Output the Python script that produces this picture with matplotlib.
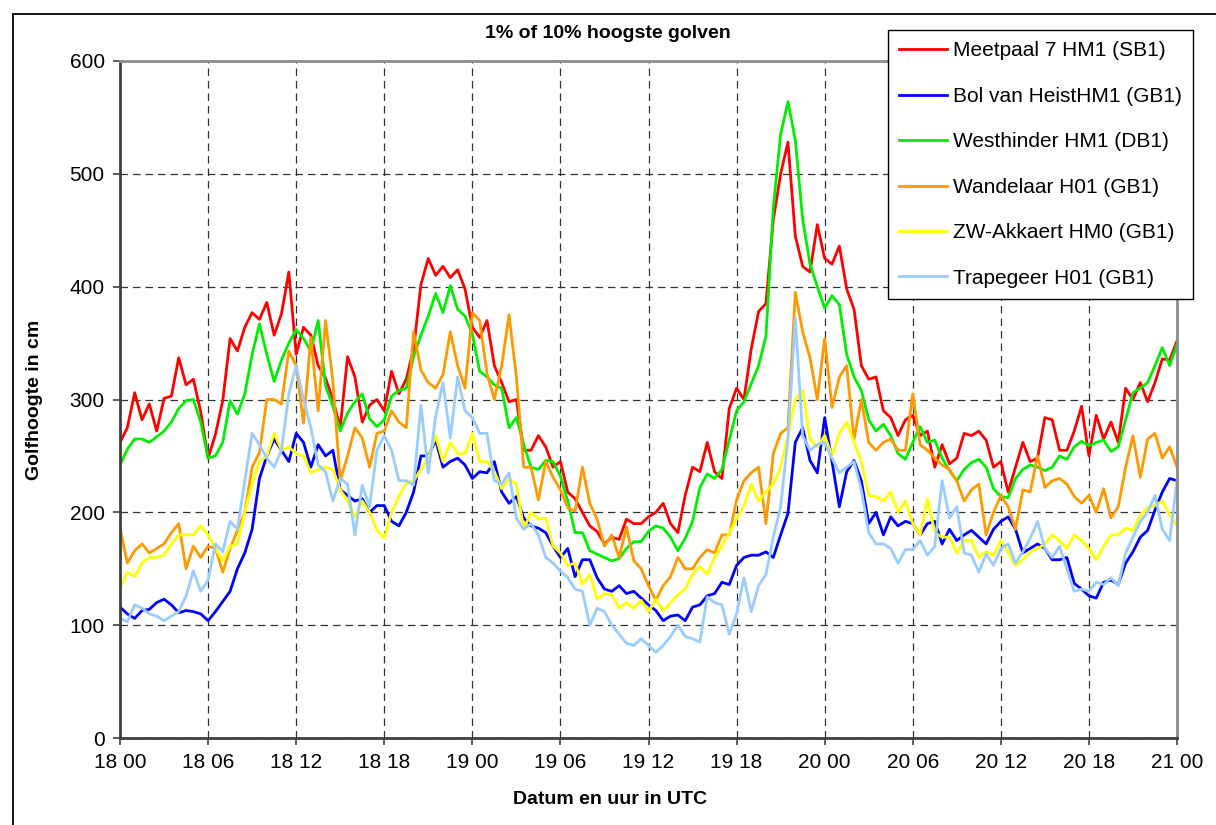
import numpy as np
import matplotlib
matplotlib.use("Agg")
import matplotlib.pyplot as plt
from matplotlib.patches import Rectangle

plt.rcParams["font.family"] = ["Liberation Sans", "DejaVu Sans"]

# =========================
# data (half-hourly, 18 00 -> 21 00)
# =========================

hours = np.arange(0, 72.5, 0.5)

tick_hours = [0, 6, 12, 18, 24, 30, 36, 42, 48, 54, 60, 66, 72]
tick_labels = ["18 00", "18 06", "18 12", "18 18", "19 00", "19 06", "19 12",
               "19 18", "20 00", "20 06", "20 12", "20 18", "21 00"]

meetpaal7 = [
    262, 275, 306, 282, 296, 272, 301, 303, 337, 313, 318, 289, 248, 269,
    299, 354, 343, 364, 377, 371, 386, 357, 376, 413, 340, 364, 357, 330,
    319, 300, 275, 338, 320, 280, 295, 300, 290, 325, 305, 318, 345, 402,
    425, 410, 418, 408, 415, 398, 364, 355, 370, 330, 315, 298, 300, 255,
    255, 268, 258, 240, 245, 218, 212, 200, 188, 183, 172, 178, 176, 194,
    190, 190, 196, 200, 208, 190, 182, 215, 240, 236, 262, 236, 230, 292,
    310, 300, 345, 378, 385, 459, 500, 528, 445, 418, 413, 455, 425, 420,
    436, 398, 380, 330, 318, 320, 290, 284, 268, 282, 286, 268, 272, 240,
    260, 243, 248, 270, 268, 272, 264, 240, 245, 218, 240, 262, 245, 248,
    284, 282, 255, 255, 272, 294, 250, 286, 265, 280, 262, 310, 300, 315,
    298, 315, 336, 335, 352,
]

bol_van_heist = [
    116, 110, 106, 113, 114, 120, 123, 118, 111, 113, 112, 110, 104, 112,
    121, 130, 150, 164, 185, 230, 250, 265, 255, 245, 270, 262, 240, 260,
    250, 255, 220, 215, 210, 212, 200, 206, 206, 192, 188, 200, 218, 250,
    250, 264, 240, 245, 248, 242, 230, 236, 235, 245, 218, 208, 214, 195,
    188, 186, 182, 170, 160, 168, 143, 158, 158, 142, 132, 130, 135, 128,
    130, 124, 118, 113, 104, 108, 109, 104, 116, 118, 126, 128, 138, 136,
    153, 160, 162, 162, 165, 160, 180, 199, 262, 275, 246, 235, 284, 245,
    205, 236, 246, 228, 190, 200, 180, 196, 188, 192, 190, 180, 190, 192,
    172, 185, 175, 180, 184, 178, 172, 185, 192, 196, 185, 164, 168, 172,
    168, 158, 158, 160, 137, 132, 126, 124, 138, 140, 136, 155, 165, 178,
    184, 202, 218, 230, 228,
]

westhinder = [
    242, 256, 265, 265, 262, 267, 272, 280, 292, 299, 300, 280, 248, 250,
    262, 299, 287, 305, 340, 367, 340, 316, 335, 350, 362, 354, 343, 370,
    312, 294, 272, 288, 298, 305, 283, 276, 282, 303, 308, 310, 338, 357,
    374, 394, 377, 401, 380, 374, 358, 325, 320, 313, 310, 275, 284, 260,
    240, 238, 246, 245, 232, 210, 182, 182, 166, 163, 160, 157, 159, 168,
    174, 174, 183, 188, 186, 178, 166, 177, 192, 222, 234, 230, 238, 264,
    290, 298, 314, 330, 356, 470, 535, 564, 530, 460, 420, 400, 381, 392,
    384, 340, 320, 308, 282, 272, 278, 268, 252, 247, 262, 276, 262, 264,
    248, 237, 228, 238, 244, 247, 240, 221, 214, 213, 230, 238, 242, 240,
    237, 240, 250, 247, 258, 263, 259, 262, 264, 254, 258, 282, 306, 310,
    315, 330, 346, 330, 349,
]

wandelaar = [
    186, 155, 166, 172, 164, 168, 172, 182, 190, 150, 170, 160, 170, 168,
    147, 168, 184, 200, 240, 253, 300, 300, 296, 343, 330, 279, 355, 290,
    370, 316, 228, 250, 275, 266, 240, 270, 272, 290, 280, 275, 360, 326,
    315, 310, 322, 360, 330, 310, 377, 370, 323, 300, 330, 375, 320, 240,
    240, 211, 245, 231, 220, 204, 201, 240, 208, 194, 170, 180, 160, 187,
    157, 150, 135, 122, 135, 143, 160, 150, 150, 160, 167, 164, 180, 180,
    211, 228, 235, 240, 190, 252, 270, 275, 395, 360, 337, 300, 354, 293,
    320, 330, 265, 300, 262, 255, 262, 265, 255, 255, 305, 260, 255, 248,
    242, 238, 228, 210, 220, 225, 180, 200, 215, 205, 185, 220, 218, 250,
    222, 228, 230, 225, 214, 208, 215, 200, 221, 195, 205, 240, 268, 231,
    265, 270, 248, 258, 240,
]

zw_akkaert = [
    133, 147, 143, 155, 160, 160, 162, 172, 180, 180, 180, 188, 180, 168,
    157, 170, 172, 200, 225, 245, 250, 270, 255, 258, 252, 250, 235, 238,
    240, 238, 220, 210, 196, 210, 200, 184, 177, 200, 214, 226, 228, 238,
    248, 268, 245, 262, 252, 252, 270, 245, 245, 236, 221, 230, 225, 185,
    200, 194, 195, 170, 164, 153, 155, 136, 145, 123, 128, 127, 115, 120,
    115, 122, 112, 123, 113, 120, 127, 132, 145, 152, 145, 160, 170, 182,
    194, 206, 225, 210, 218, 225, 240, 268, 300, 308, 265, 258, 268, 250,
    270, 280, 262, 245, 215, 214, 210, 218, 200, 210, 190, 180, 212, 182,
    178, 178, 164, 175, 175, 160, 165, 162, 175, 165, 153, 158, 165, 168,
    172, 180, 175, 168, 180, 175, 168, 158, 170, 180, 180, 186, 184, 197,
    204, 206, 210, 198, 188,
]

trapegeer = [
    106, 103, 118, 115, 110, 108, 104, 108, 112, 126, 148, 130, 140, 172,
    165, 192, 185, 228, 270, 260, 248, 240, 255, 305, 330, 300, 275, 242,
    236, 210, 230, 225, 180, 224, 205, 255, 268, 255, 228, 228, 224, 295,
    235, 285, 315, 266, 320, 290, 284, 270, 270, 228, 225, 235, 195, 185,
    190, 180, 160, 155, 148, 142, 132, 130, 100, 115, 112, 100, 92, 84,
    82, 88, 82, 76, 82, 90, 100, 90, 88, 85, 125, 120, 118, 92,
    110, 142, 112, 135, 145, 178, 205, 265, 372, 268, 255, 260, 262, 248,
    235, 240, 245, 220, 182, 172, 172, 168, 155, 167, 167, 175, 162, 170,
    228, 195, 205, 164, 162, 147, 163, 153, 168, 172, 155, 165, 177, 192,
    168, 160, 170, 150, 130, 132, 130, 138, 136, 142, 135, 164, 178, 192,
    200, 215, 185, 175, 228,
]

series = [
    ("Meetpaal 7 HM1 (SB1)", meetpaal7, "#FF0000"),
    ("Bol van HeistHM1 (GB1)", bol_van_heist, "#0000FF"),
    ("Westhinder HM1 (DB1)", westhinder, "#00EE00"),
    ("Wandelaar H01 (GB1)", wandelaar, "#FF9900"),
    ("ZW-Akkaert HM0 (GB1)", zw_akkaert, "#FFFF00"),
    ("Trapegeer H01 (GB1)", trapegeer, "#99CCFF"),
]


# =========================
# figure
# =========================

fig = plt.figure(figsize=(12.16, 8.25), dpi=100)
ax = fig.add_axes([120 / 1216, 1 - 738 / 825, 1057 / 1216, 677 / 825])

for name, values, color in series:
    ax.plot(hours, values, color=color, lw=2.0, label=name)

ax.set_xlim(0, 72)
ax.set_ylim(0, 600)
ax.set_xticks(tick_hours)
ax.set_xticklabels(tick_labels)
ax.set_yticks(range(0, 601, 100))

ax.grid(True, color="#333333", linestyle=(0, (6, 4)), lw=0.9)
ax.set_axisbelow(True)

ax.tick_params(axis="both", labelsize=15, length=5, width=1.2,
               color="#404040", direction="out")
ax.tick_params(axis="y", pad=6)
ax.tick_params(axis="x", pad=6)

for side in ["left", "bottom"]:
    ax.spines[side].set_color("#404040")
    ax.spines[side].set_linewidth(2)
for side in ["top", "right"]:
    ax.spines[side].set_color("#8c8c8c")
    ax.spines[side].set_linewidth(2)

leg = ax.legend(
    loc="upper left",
    bbox_to_anchor=((888 - 120) / 1057, (738 - 30) / 677),
    borderaxespad=0,
    fontsize=15,
    frameon=True,
    fancybox=False,
    edgecolor="black",
    framealpha=1,
    handlelength=2.3,
    handletextpad=0.25,
    labelspacing=1.27,
    borderpad=0.55,
)
leg.get_frame().set_linewidth(1.0)
for line in leg.get_lines():
    line.set_linewidth(2)

fig.text(608 / 1216, 1 - 33 / 825, "1% of 10% hoogste golven",
         ha="center", va="center", fontsize=14, fontweight="bold")
fig.text(35 / 1216, 1 - 400 / 825, "Golfhoogte in cm", rotation=90,
         ha="center", va="center", fontsize=14, fontweight="bold")
fig.text(610 / 1216, 1 - 800 / 825, "Datum en uur in UTC",
         ha="center", va="center", fontsize=14, fontweight="bold")

# outer chart border
fig.patches.append(Rectangle((13 / 1216, -0.05), 1.1, (825 - 14) / 825 + 0.05,
                             transform=fig.transFigure, fill=False,
                             edgecolor="black", lw=1.3))

fig.savefig("out.png", dpi=100)
